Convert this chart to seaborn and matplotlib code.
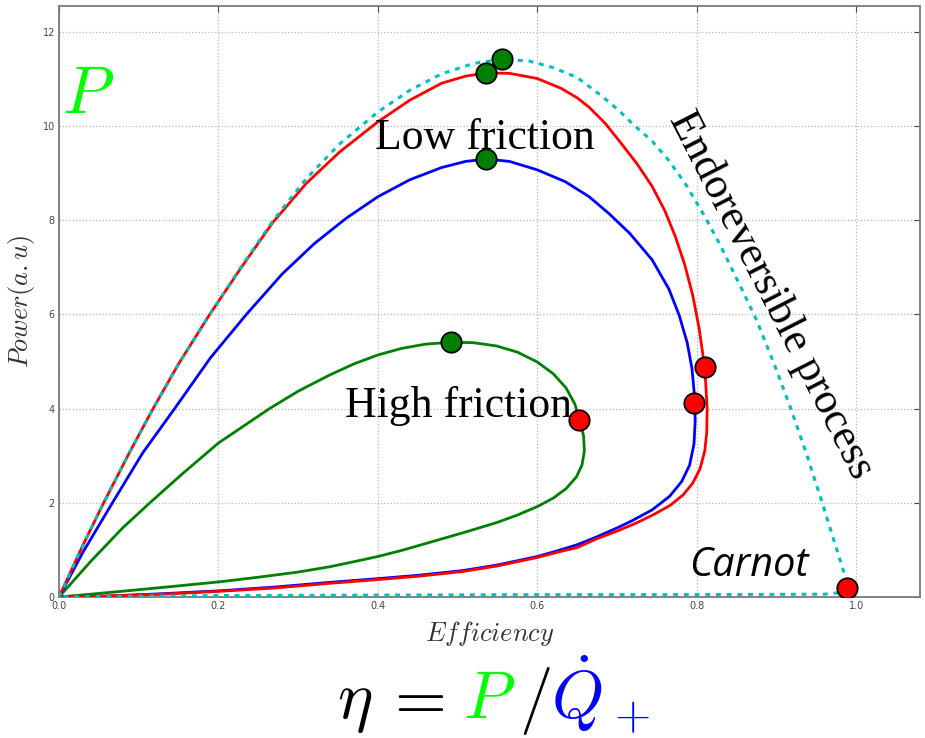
import matplotlib
matplotlib.use("Agg")
import matplotlib.pyplot as plt
import seaborn as sns
import pandas as pd

# ---------------- data ----------------
endo_eta = [0.000, 0.030, 0.056, 0.090, 0.118, 0.150, 0.189, 0.230, 0.268, 0.310,
            0.352, 0.400, 0.440, 0.480, 0.520, 0.556, 0.590, 0.620, 0.650, 0.680,
            0.703, 0.720, 0.744, 0.765, 0.787, 0.808, 0.828, 0.857, 0.875, 0.897,
            0.918, 0.938, 0.957, 0.975, 0.985, 0.990, 0.984, 0.960, 0.800, 0.600,
            0.400, 0.200, 0.050, 0.000]
endo_P = [0.00, 1.10, 2.00, 3.12, 4.00, 4.95, 6.00, 7.05, 7.98, 8.88,
          9.62, 10.30, 10.76, 11.11, 11.33, 11.42, 11.38, 11.24, 11.03, 10.65,
          10.32, 10.04, 9.68, 9.27, 8.74, 8.14, 7.52, 6.52, 5.88, 4.95,
          4.00, 3.02, 2.02, 1.04, 0.50, 0.22, 0.10, 0.06, 0.05, 0.05,
          0.04, 0.03, 0.01, 0.00]

low_eta = [0.000, 0.030, 0.056, 0.090, 0.118, 0.150, 0.189, 0.230, 0.268, 0.310,
           0.352, 0.400, 0.440, 0.480, 0.510, 0.536, 0.565, 0.600, 0.630, 0.650,
           0.665, 0.685, 0.703, 0.725, 0.744, 0.760, 0.773, 0.785, 0.795, 0.803,
           0.808, 0.811, 0.813, 0.8125, 0.810, 0.804, 0.795, 0.783, 0.767, 0.747,
           0.724, 0.700, 0.675, 0.650, 0.625, 0.600, 0.550, 0.506, 0.450, 0.400,
           0.339, 0.270, 0.200, 0.130, 0.060, 0.000]
low_P = [0.00, 1.10, 2.00, 3.12, 4.00, 4.95, 6.00, 7.03, 7.95, 8.78,
         9.45, 10.09, 10.55, 10.91, 11.06, 11.13, 11.12, 11.01, 10.80, 10.60,
         10.40, 10.06, 9.68, 9.20, 8.72, 8.20, 7.66, 7.05, 6.40, 5.70,
         5.10, 4.60, 4.00, 3.50, 3.10, 2.72, 2.42, 2.17, 1.95, 1.76,
         1.57, 1.40, 1.24, 1.05, 0.95, 0.84, 0.66, 0.54, 0.44, 0.37,
         0.29, 0.19, 0.12, 0.06, 0.02, 0.00]

mid_eta = [0.000, 0.030, 0.067, 0.105, 0.145, 0.190, 0.235, 0.280, 0.320, 0.360,
           0.400, 0.440, 0.480, 0.510, 0.536, 0.565, 0.600, 0.635, 0.665, 0.690,
           0.716, 0.744, 0.765, 0.778, 0.788, 0.794, 0.797, 0.798, 0.7965, 0.791,
           0.781, 0.766, 0.744, 0.720, 0.703, 0.675, 0.650, 0.625, 0.600, 0.550,
           0.506, 0.450, 0.400, 0.339, 0.270, 0.200, 0.130, 0.060, 0.000]
mid_P = [0.00, 0.95, 2.00, 3.06, 4.00, 5.08, 6.00, 6.86, 7.50, 8.04,
         8.50, 8.86, 9.12, 9.25, 9.30, 9.25, 9.07, 8.82, 8.50, 8.14,
         7.72, 7.16, 6.54, 5.98, 5.40, 4.85, 4.30, 3.75, 3.25, 2.80,
         2.45, 2.14, 1.85, 1.63, 1.49, 1.28, 1.11, 0.98, 0.86, 0.68,
         0.56, 0.46, 0.39, 0.31, 0.21, 0.13, 0.07, 0.02, 0.00]

high_eta = [0.000, 0.040, 0.080, 0.114, 0.155, 0.200, 0.264, 0.300, 0.339, 0.370,
            0.400, 0.430, 0.460, 0.492, 0.520, 0.549, 0.575, 0.600, 0.620, 0.636,
            0.647, 0.653, 0.658, 0.659, 0.656, 0.649, 0.636, 0.620, 0.600, 0.575,
            0.549, 0.510, 0.465, 0.430, 0.400, 0.370, 0.339, 0.300, 0.250, 0.200,
            0.140, 0.072, 0.030, 0.000]
high_P = [0.00, 0.76, 1.47, 2.00, 2.62, 3.27, 4.00, 4.37, 4.71, 4.95,
          5.14, 5.28, 5.37, 5.41, 5.40, 5.33, 5.20, 4.99, 4.74, 4.44,
          4.10, 3.76, 3.42, 3.10, 2.80, 2.55, 2.30, 2.10, 1.92, 1.74,
          1.58, 1.38, 1.16, 0.99, 0.86, 0.75, 0.64, 0.53, 0.42, 0.32,
          0.22, 0.11, 0.045, 0.00]

maxP_eta = [0.556, 0.536, 0.536, 0.492]
maxP_P = [11.42, 11.13, 9.30, 5.41]
maxEta_eta = [0.810, 0.797, 0.652, 0.989]
maxEta_P = [4.88, 4.12, 3.76, 0.19]

x_ticks = [0.0, 0.2, 0.4, 0.6, 0.8, 1.0]
x_ticklabels = ["0.0", "0.2", "0.4", "0.6", "0.8", "1.0"]
y_ticks = [0, 2, 4, 6, 8, 10, 12]
y_ticklabels = ["0", "2", "4", "6", "8", "10", "12"]

# ---------------- figure ----------------
sns.set_theme(style="white")
plt.rcParams["font.family"] = ["DejaVu Sans"]
plt.rcParams["mathtext.fontset"] = "cm"

W, H = 925, 738
fig = plt.figure(figsize=(W / 100, H / 100), dpi=100)
ax = fig.add_axes([59 / W, 1 - 597 / H, (920 - 59) / W, (597 - 6) / H])

def curve(eta, P, color, **kw):
    df = pd.DataFrame({"eta": eta, "P": P})
    sns.lineplot(data=df, x="eta", y="P", sort=False, estimator=None,
                 color=color, ax=ax, **kw)
    line = ax.lines[-1]
    line.set_solid_joinstyle("round")
    return line

curve(high_eta, high_P, "#008000", lw=2.0, zorder=2)
curve(mid_eta, mid_P, "#0000ff", lw=2.0, zorder=2)
curve(low_eta, low_P, "#ff0000", lw=2.0, zorder=3)
ln = curve(endo_eta, endo_P, "#00bfbf", lw=2.2, zorder=4)
ln.set_dashes((1.6, 1.9))

sns.scatterplot(x=maxP_eta, y=maxP_P, color="#008000", edgecolor="black",
                linewidth=1.3, s=215, zorder=6, ax=ax, legend=False)
sns.scatterplot(x=maxEta_eta, y=maxEta_P, color="#ff0000", edgecolor="black",
                linewidth=1.3, s=215, zorder=6, ax=ax, legend=False)

ax.set_xlim(0, 1.08)
ax.set_ylim(0, 12.55)
ax.set_xticks(x_ticks)
ax.set_xticklabels(x_ticklabels)
ax.set_yticks(y_ticks)
ax.set_yticklabels(y_ticklabels)
ax.tick_params(direction="in", length=4, width=0.8, labelsize=7,
               colors="#444444", pad=3, top=True, right=True)
ax.grid(True, ls=":", color="#b5b5b5", lw=0.9)
for sp in ax.spines.values():
    sp.set_color("#7a7a7a")
    sp.set_linewidth(1.3)

ax.set_xlabel(r"$Efficiency$", fontsize=19, color="#333333", labelpad=6)
ax.set_ylabel(r"$Power(a.u)$", fontsize=19, color="#333333", labelpad=4)

# annotations
ax.text(0.004, 10.28, r"$P$", color="#00ff00", fontsize=48, ha="left", va="baseline")
serif = "Liberation Serif"
ax.text(0.534, 9.51, "Low friction", family=serif, fontsize=31.5,
        ha="center", va="baseline", color="black", zorder=7)
ax.text(0.501, 3.82, "High friction", family=serif, fontsize=31.5,
        ha="center", va="baseline", color="black", zorder=7)
ax.text(0.894, 6.41, "Endoreversible process", family=serif, fontsize=31.5,
        rotation=-63, rotation_mode="anchor", ha="center", va="center",
        color="black", zorder=7)
ax.text(0.865, 0.45, "Carnot", family="Open Sans", style="italic", fontsize=28.5,
        ha="center", va="baseline", color="black", zorder=7)

# bottom equation
base = 1 - 718 / H
fig.text(337 / W, base, r"$\eta$", fontsize=48, color="black", ha="left", va="baseline")
fig.text(383 / W, base, r"$=$", fontsize=48, color="black", ha="left", va="baseline")
fig.text(463 / W, base, r"$P$", fontsize=48, color="#00ff00", ha="left", va="baseline")
fig.text(519 / W, base, r"$/$", fontsize=48, color="black", ha="left", va="baseline")
fig.text(551 / W, base, r"$\dot{Q}_+$", fontsize=48, color="#0000ff", ha="left", va="baseline")

fig.savefig("out.png", dpi=100)
